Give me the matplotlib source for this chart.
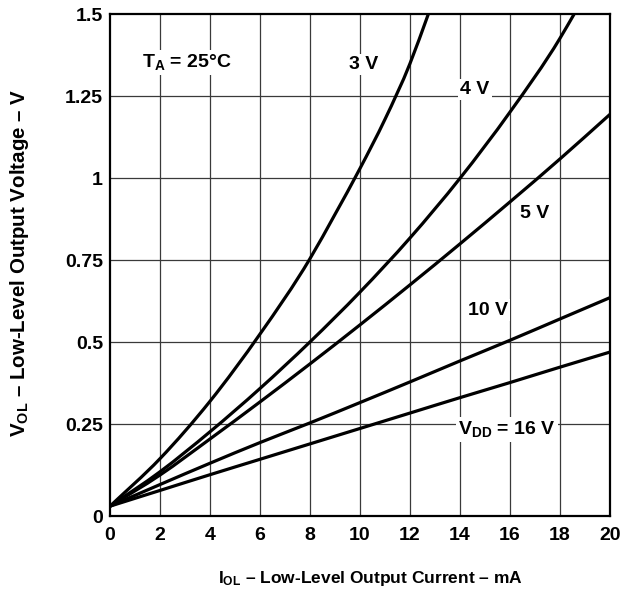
import matplotlib
matplotlib.use('Agg')
import matplotlib.pyplot as plt
from matplotlib.path import Path
from matplotlib.patches import PathPatch

plt.rcParams['font.family'] = ['Liberation Sans', 'DejaVu Sans']
plt.rcParams['font.weight'] = 'bold'
plt.rcParams['mathtext.fontset'] = 'custom'
plt.rcParams['mathtext.rm'] = 'Liberation Sans:bold'
plt.rcParams['mathtext.it'] = 'Liberation Sans:bold'
plt.rcParams['mathtext.bf'] = 'Liberation Sans:bold'

# 读图得到的数据 (I_OL mA, V_OL V)
i_3v = [0, 2, 4, 6, 8, 9, 10, 11, 12, 12.73]
v_3v = [0, 0.145, 0.32, 0.525, 0.755, 0.89, 1.03, 1.18, 1.35, 1.5]
i_4v = [0, 2, 4, 6, 8, 10, 12, 14, 16, 18, 18.56]
v_4v = [0, 0.105, 0.227, 0.359, 0.501, 0.653, 0.818, 1.0, 1.202, 1.427, 1.5]
i_5v = [0, 2, 4, 6, 8, 10, 12, 14, 16, 18, 20]
v_5v = [0, 0.095, 0.205, 0.318, 0.434, 0.553, 0.675, 0.80, 0.928, 1.059, 1.195]
i_10v = [0, 2, 4, 6, 8, 10, 12, 14, 16, 18, 20]
v_10v = [0, 0.066, 0.131, 0.194, 0.254, 0.316, 0.379, 0.443, 0.506, 0.571, 0.636]
i_16v = [0, 2, 4, 6, 8, 10, 12, 14, 16, 18, 20]
v_16v = [0, 0.048, 0.096, 0.143, 0.19, 0.237, 0.284, 0.331, 0.377, 0.424, 0.47]

x_ticks = [0, 2, 4, 6, 8, 10, 12, 14, 16, 18, 20]
y_ticks = [0.25, 0.5, 0.75, 1.0, 1.25, 1.5]
y_labels = ['0', '0.25', '0.5', '0.75', '1', '1.25', '1.5']
y_bottom = -0.03


def smooth_path(xs, ys):
    # 三次 Hermite 曲线(贝塞尔)连接读出的点
    n = len(xs)
    h = [xs[k + 1] - xs[k] for k in range(n - 1)]
    d = [(ys[k + 1] - ys[k]) / h[k] for k in range(n - 1)]
    m = [d[0]]
    for k in range(1, n - 1):
        m.append((h[k] * d[k - 1] + h[k - 1] * d[k]) / (h[k - 1] + h[k]))
    m.append(d[-1])
    verts = [(xs[0], ys[0])]
    codes = [Path.MOVETO]
    for k in range(n - 1):
        t = h[k] / 3
        verts += [(xs[k] + t, ys[k] + m[k] * t),
                  (xs[k + 1] - t, ys[k + 1] - m[k + 1] * t),
                  (xs[k + 1], ys[k + 1])]
        codes += [Path.CURVE4] * 3
    return Path(verts, codes)


fig = plt.figure(figsize=(6.29, 5.96), dpi=100)
ax = fig.add_axes([0.1749, 0.1342, 0.7949, 0.8418])

for xs, ys in [(i_3v, v_3v), (i_4v, v_4v), (i_5v, v_5v), (i_10v, v_10v), (i_16v, v_16v)]:
    ax.add_patch(PathPatch(smooth_path(xs, ys), facecolor='none', edgecolor='black',
                           linewidth=2.3, capstyle='butt', zorder=3))

ax.set_xlim(0, 20)
ax.set_ylim(y_bottom, 1.5)
ax.set_xticks(x_ticks)
ax.set_yticks([y_bottom] + y_ticks)
ax.set_yticklabels(y_labels)
ax.tick_params(length=0, labelsize=14)
ax.tick_params(axis='x', pad=8)
ax.tick_params(axis='y', pad=5)
for lbl in ax.get_xticklabels() + ax.get_yticklabels():
    lbl.set_fontweight('bold')

# 网格
for gx in x_ticks[1:-1]:
    ax.axvline(gx, color='#3a3a3a', linewidth=0.9, zorder=1)
for gy in y_ticks[:-1]:
    ax.axhline(gy, color='#3a3a3a', linewidth=0.9, zorder=1)

for s in ax.spines.values():
    s.set_linewidth(1.6)
    s.set_zorder(4)

box = dict(facecolor='white', edgecolor='none', pad=1.5)
kw = dict(fontsize=14, fontweight='bold', ha='center', bbox=box, zorder=5)
ax.text(3.08, 1.338, r'T$_\mathregular{A}$ = 25°C', va='baseline', **kw)
ax.text(10.16, 1.348, '3 V', va='center', **kw)
ax.text(14.6, 1.271, '4 V', va='center', **kw)
ax.text(17.0, 0.893, '5 V', va='center', **kw)
ax.text(15.12, 0.598, '10 V', va='center', **kw)
ax.text(15.88, 0.219, r'V$_\mathregular{DD}$ = 16 V', va='baseline', **kw)

ax.set_xlabel(r'I$_\mathregular{OL}$ – Low-Level Output Current – mA', fontsize=12.5, fontweight='bold')
ax.set_ylabel(r'V$_\mathregular{OL}$ – Low-Level Output Voltage – V', fontsize=14.8, fontweight='bold')
ax.xaxis.set_label_coords(0.52, -0.106)
ax.yaxis.set_label_coords(-0.158, 0.504)

fig.savefig('out.png', dpi=100)
